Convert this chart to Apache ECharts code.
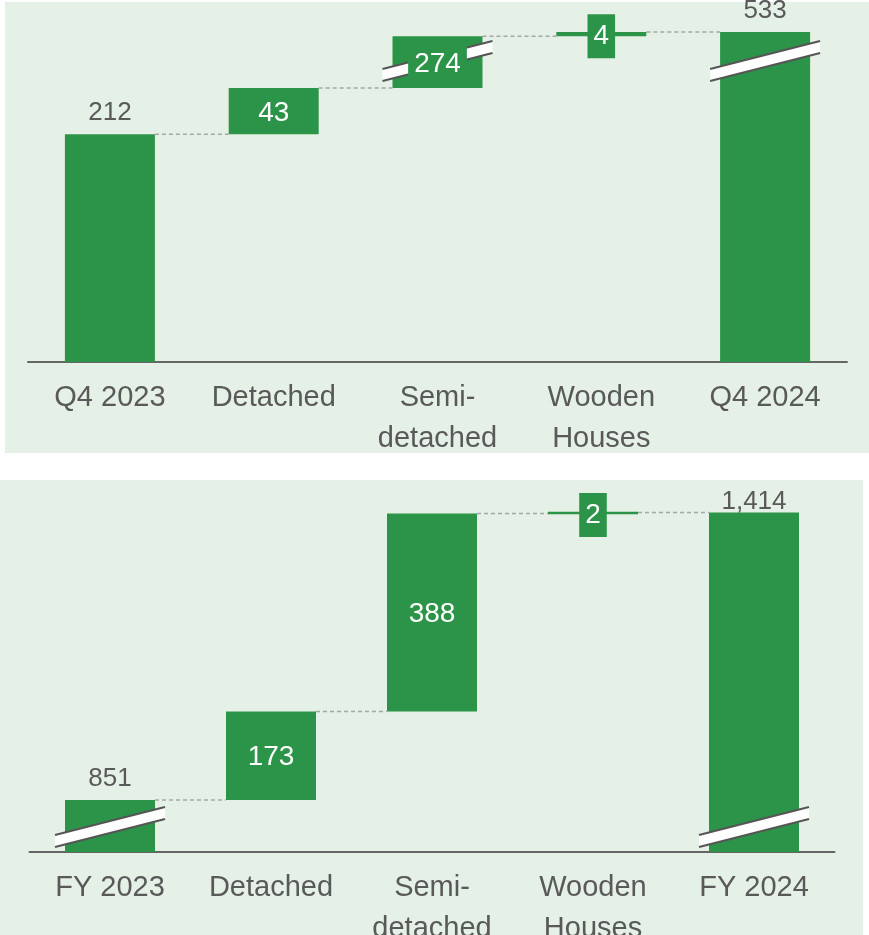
<!DOCTYPE html>
<html>
<head>
<meta charset="utf-8">
<script src="https://cdn.jsdelivr.net/npm/echarts@6/dist/echarts.min.js"></script>
<style>
  html, body { margin: 0; padding: 0; background: #ffffff; }
  #chart { width: 869px; height: 935px; }
</style>
</head>
<body>
<div id="chart"></div>
<script>
// Quarterly bridge: Q4 2023 -> Q4 2024
const quarterCategories = ['Q4 2023', 'Detached', 'Semi-\ndetached', 'Wooden\nHouses', 'Q4 2024'];
const quarterValues = [212, 43, 274, 4, 533];
const quarterKinds = ['total', 'delta', 'delta', 'delta', 'total'];
const quarterBroken = [false, false, true, false, true];
const quarterAxisBreak = { start: 280, end: 506 };
const quarterAxisMax = 560;

// Full-year bridge: FY 2023 -> FY 2024
const yearCategories = ['FY 2023', 'Detached', 'Semi-\ndetached', 'Wooden\nHouses', 'FY 2024'];
const yearValues = [851, 173, 388, 2, 1414];
const yearKinds = ['total', 'delta', 'delta', 'delta', 'total'];
const yearBroken = [true, false, false, false, true];
const yearAxisBreak = { start: 49, end: 798 };
const yearAxisMax = 1450;

const GREEN = '#2C9448';
const PANEL = '#E5F0E6';
const TEXT = '#595959';
const FONT = '"Liberation Sans", Arial, Helvetica, sans-serif';
const BAR_W = 90;

// Turn totals and increments into [index, low, high, value, isTotal, isBroken] rows
function buildSteps(values, kinds, broken) {
  let level = 0;
  return values.map((v, i) => {
    let lo, hi;
    if (kinds[i] === 'total') { lo = 0; hi = v; }
    else { lo = level; hi = level + v; }
    level = hi;
    return [i, lo, hi, v, kinds[i] === 'total' ? 1 : 0, broken[i] ? 1 : 0];
  });
}

function makeRenderer(axisBreak, count) {
  return function (params, api) {
    const i = api.value(0);
    const lo = api.value(1);
    const hi = api.value(2);
    const val = api.value(3);
    const isTotal = api.value(4) === 1;
    const isBroken = api.value(5) === 1;
    const pLo = api.coord([i, lo]);
    const pHi = api.coord([i, hi]);
    const x = pLo[0] - BAR_W / 2;
    const yTop = Math.min(pHi[1], pLo[1]);
    const yBot = Math.max(pHi[1], pLo[1]);
    let h = yBot - yTop;
    let rectY = yTop;
    if (h < 2.5) { rectY = (yTop + yBot) / 2 - 1.25; h = 2.5; }
    const children = [];

    // dashed connector to the next column at this column's closing level
    if (i < count - 1) {
      const next = api.coord([i + 1, hi]);
      children.push({
        type: 'line',
        shape: { x1: x + BAR_W, y1: pHi[1], x2: next[0] - BAR_W / 2, y2: pHi[1] },
        style: { stroke: '#A6A6A6', lineWidth: 1.5, lineDash: [4, 3] }
      });
    }

    children.push({
      type: 'rect',
      shape: { x: x, y: rectY, width: BAR_W, height: h },
      style: { fill: GREEN }
    });

    // slanted break marker across a column that spans the axis break
    if (isBroken) {
      const yb = api.coord([i, axisBreak.start])[1];
      const ext = 10, rise = 14, half = 6;
      const L = x - ext, R = x + BAR_W + ext;
      children.push({
        type: 'polygon',
        shape: { points: [[L, yb + rise - half], [R, yb - rise - half], [R, yb - rise + half], [L, yb + rise + half]] },
        style: { fill: '#ffffff' }
      });
      children.push({
        type: 'line',
        shape: { x1: L, y1: yb + rise - half, x2: R, y2: yb - rise - half },
        style: { stroke: '#555555', lineWidth: 2 }
      });
      children.push({
        type: 'line',
        shape: { x1: L, y1: yb + rise + half, x2: R, y2: yb - rise + half },
        style: { stroke: '#555555', lineWidth: 2 }
      });
    }

    const text = val.toLocaleString('en-US');
    if (isTotal) {
      const cy = Math.max(yTop - 21, params.coordSys.y + 8);
      children.push({
        type: 'text',
        style: {
          text: text, x: pLo[0], y: cy, align: 'center', verticalAlign: 'middle',
          fill: TEXT, font: '26px ' + FONT
        }
      });
    } else {
      // a green plate keeps the value readable on thin or broken columns
      const needsPlate = isBroken || h < 30;
      const style = {
        text: text, x: pLo[0], y: (yTop + yBot) / 2 + 2, align: 'center', verticalAlign: 'middle',
        fill: '#ffffff', font: '28px ' + FONT, lineHeight: 32
      };
      if (needsPlate) {
        style.backgroundColor = GREEN;
        style.padding = [6, 6];
      }
      children.push({ type: 'text', style: style });
    }
    return { type: 'group', children: children };
  };
}

function categoryAxis(cats, gridIndex) {
  return {
    type: 'category', gridIndex: gridIndex, data: cats,
    axisLine: { show: true, lineStyle: { color: '#666666', width: 2 } },
    axisTick: { show: false },
    splitLine: { show: false },
    axisLabel: {
      color: TEXT, fontFamily: FONT, fontSize: 29, lineHeight: 41,
      margin: 15, interval: 0
    }
  };
}

function valueAxis(gridIndex, max, brk) {
  return {
    type: 'value', gridIndex: gridIndex, min: 0, max: max,
    breaks: [{ start: brk.start, end: brk.end, gap: 0 }],
    breakArea: { show: false },
    axisLine: { show: false }, axisTick: { show: false },
    axisLabel: { show: false }, splitLine: { show: false }
  };
}

const quarterRows = buildSteps(quarterValues, quarterKinds, quarterBroken);
const yearRows = buildSteps(yearValues, yearKinds, yearBroken);

const chart = echarts.init(document.getElementById('chart'), null, { renderer: 'canvas' });
chart.setOption({
  animation: false,
  graphic: [
    { type: 'rect', z: -10, shape: { x: 5, y: 2, width: 864, height: 451 }, style: { fill: PANEL } },
    { type: 'rect', z: -10, shape: { x: 0, y: 480, width: 863, height: 455 }, style: { fill: PANEL } }
  ],
  grid: [
    { left: 28, top: 3, width: 819, height: 359, outerBoundsMode: 'none', containLabel: false },
    { left: 29.5, top: 494, width: 805, height: 358, outerBoundsMode: 'none', containLabel: false }
  ],
  xAxis: [categoryAxis(quarterCategories, 0), categoryAxis(yearCategories, 1)],
  yAxis: [valueAxis(0, quarterAxisMax, quarterAxisBreak), valueAxis(1, yearAxisMax, yearAxisBreak)],
  series: [
    {
      type: 'custom', xAxisIndex: 0, yAxisIndex: 0,
      renderItem: makeRenderer(quarterAxisBreak, quarterRows.length),
      encode: { x: 0, y: [1, 2] },
      data: quarterRows
    },
    {
      type: 'custom', xAxisIndex: 1, yAxisIndex: 1,
      renderItem: makeRenderer(yearAxisBreak, yearRows.length),
      encode: { x: 0, y: [1, 2] },
      data: yearRows
    }
  ]
});
</script>
</body>
</html>
